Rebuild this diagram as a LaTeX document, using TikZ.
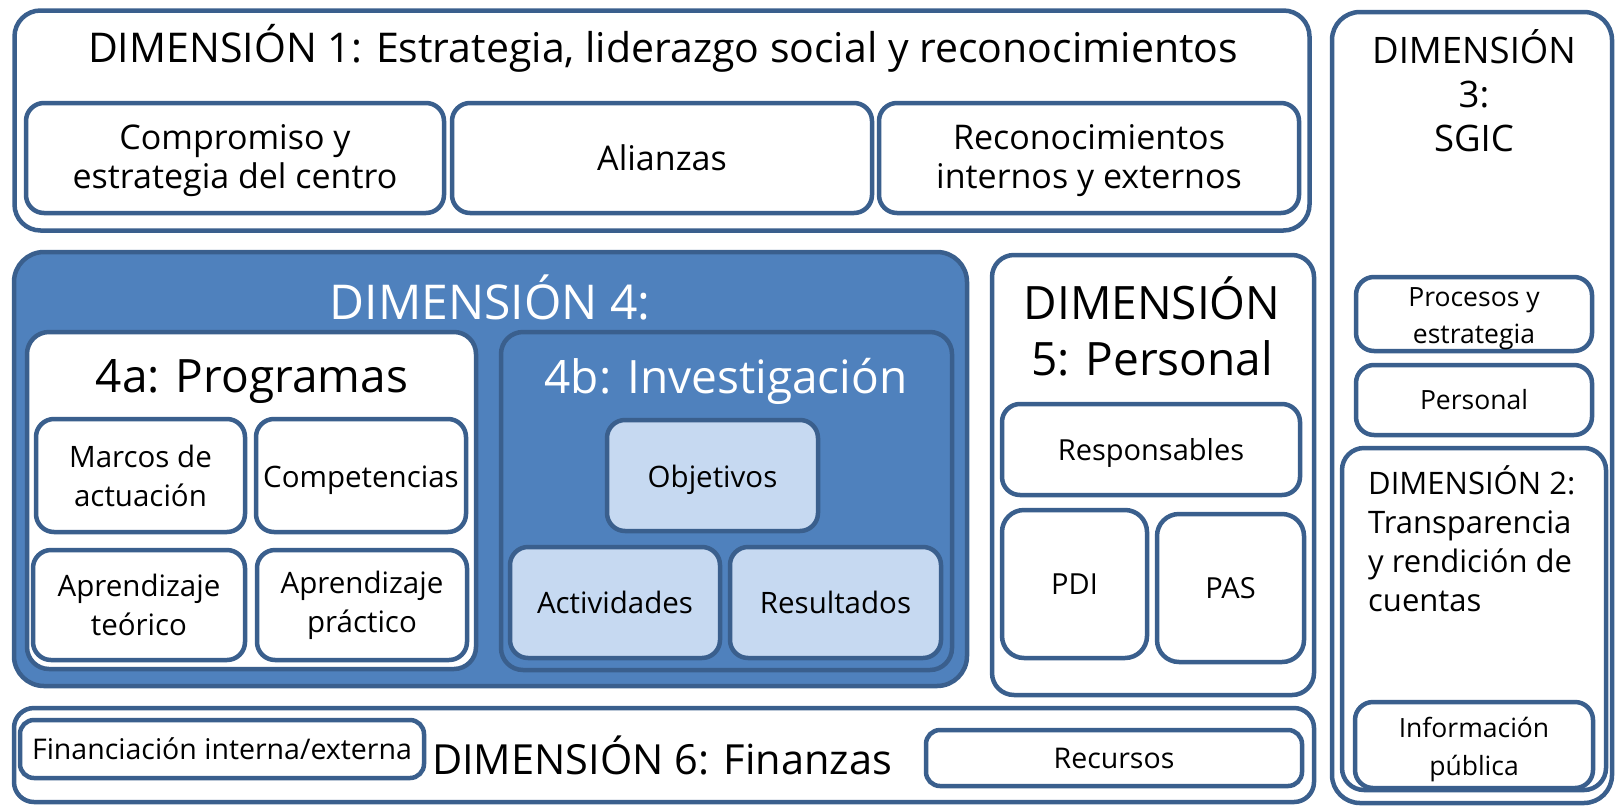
\documentclass[tikz,border=0pt]{standalone}
\usepackage{fontspec}
\setmainfont{Open Sans}
\definecolor{bord}{HTML}{3A5F8D}
\definecolor{dfill}{HTML}{4F81BD}
\definecolor{lfill}{HTML}{C6D9F1}
\newcommand{\dn}[2]{\raisebox{-#1}[\height][\depth]{#2}}
\tikzset{
  bx/.style={draw=bord, line width=4.5pt, rounded corners=18pt, fill=white, align=center, inner sep=0pt},
  big/.style={bx, rounded corners=26pt},
  lbl/.style={align=center, inner sep=0pt},
}
\begin{document}
\begin{tikzpicture}[x=1pt,y=-1pt]
\useasboundingbox (0,0) rectangle (1616,809);
% Dimension 1
\node[big, minimum width=1295pt, minimum height=220pt] (d1) at (662,120.5) {};
\node[lbl, font=\fontsize{41}{50}\selectfont] (d1t) at (663,48) {DIMENSIÓN 1: Estrategia, liderazgo social y reconocimientos};
\node[bx, minimum width=418pt, minimum height=110pt, font=\fontsize{34}{39}\selectfont] (comp) at (235,158) {\dn{3pt}{\begin{tabular}{@{}c@{}}Compromiso y\\[0pt]estrategia del centro\end{tabular}}};
\node[bx, minimum width=420pt, minimum height=110pt, font=\fontsize{34}{39}\selectfont] (ali) at (662,158) {Alianzas};
\node[bx, minimum width=420pt, minimum height=110pt, font=\fontsize{34}{39}\selectfont] (rec) at (1089,158) {\dn{3pt}{\begin{tabular}{@{}c@{}}Reconocimientos\\[0pt]internos y externos\end{tabular}}};
% Dimension 4
\node[big, fill=dfill, rounded corners=30pt, minimum width=953pt, minimum height=434pt] (d4) at (490.5,469) {};
\node[lbl, text=white, font=\fontsize{48}{56}\selectfont] (d4t) at (490,297) {DIMENSIÓN 4:};
\node[bx, rounded corners=22pt, minimum width=449pt, minimum height=337pt] (d4a) at (251.5,500.5) {};
\node[lbl, font=\fontsize{46}{58}\selectfont] (d4at) at (252,382) {4a: Programas};
\node[bx, minimum width=209pt, minimum height=113pt, font=\fontsize{29.5}{39}\selectfont] (mar) at (140.5,475.5) {Marcos de\\actuación};
\node[bx, minimum width=210pt, minimum height=113pt, font=\fontsize{29.5}{39}\selectfont] (com) at (361,475.5) {\dn{5pt}{Competencias}};
\node[bx, minimum width=212pt, minimum height=110pt, font=\fontsize{29.5}{39}\selectfont] (apt) at (139,605) {Aprendizaje\\teórico};
\node[bx, minimum width=210pt, minimum height=110pt, font=\fontsize{29.5}{39}\selectfont] (app) at (362,605) {Aprendizaje\\práctico};
\node[bx, fill=dfill, rounded corners=22pt, minimum width=451pt, minimum height=338pt] (d4b) at (726.5,501) {};
\node[lbl, text=white, font=\fontsize{46}{56}\selectfont] (d4bt) at (726,381) {4b: Investigación};
\node[bx, fill=lfill, minimum width=211pt, minimum height=111pt, font=\fontsize{29.5}{38}\selectfont] (obj) at (712.5,475.5) {\dn{4pt}{Objetivos}};
\node[bx, fill=lfill, minimum width=210pt, minimum height=111pt, font=\fontsize{29.5}{38}\selectfont] (act) at (615,602.5) {Actividades};
\node[bx, fill=lfill, minimum width=211pt, minimum height=111pt, font=\fontsize{29.5}{38}\selectfont] (res) at (835.5,602.5) {Resultados};
% Dimension 5
\node[big, rounded corners=22pt, minimum width=322pt, minimum height=440pt] (d5) at (1153,475) {};
\node[lbl, font=\fontsize{46}{56}\selectfont] (d5t) at (1152,326) {DIMENSIÓN\\5: Personal};
\node[bx, minimum width=298pt, minimum height=91pt, font=\fontsize{29}{38}\selectfont] (resp) at (1151,449.5) {\dn{3pt}{Responsables}};
\node[bx, rounded corners=22pt, minimum width=145pt, minimum height=148pt, font=\fontsize{29}{38}\selectfont] (pdi) at (1074.5,584) {PDI};
\node[bx, rounded corners=22pt, minimum width=147pt, minimum height=148pt, font=\fontsize{29}{38}\selectfont] (pas) at (1230.5,588) {PAS};
% Dimension 6
\node[big, rounded corners=20pt, minimum width=1300pt, minimum height=94pt] (d6) at (664,755) {};
\node[lbl, font=\fontsize{41.5}{52}\selectfont] (d6t) at (662,755) {DIMENSIÓN 6: Finanzas};
\node[bx, rounded corners=14pt, minimum width=404pt, minimum height=58pt, font=\fontsize{28.5}{34}\selectfont] (fin) at (222,749) {Financiación interna/externa};
\node[bx, rounded corners=14pt, minimum width=376pt, minimum height=56pt, font=\fontsize{28.5}{34}\selectfont] (recu) at (1114,758) {Recursos};
% Dimension 3
\node[big, rounded corners=28pt, minimum width=280pt, minimum height=791pt] (d3) at (1472,407.5) {};
\node[lbl, font=\fontsize{36.5}{44}\selectfont] (d3t) at (1474,91) {DIMENSIÓN\\3:\\SGIC};
\node[bx, minimum width=236pt, minimum height=72pt, font=\fontsize{26.5}{37}\selectfont] (pro) at (1474,314) {\dn{4pt}{\begin{tabular}{@{}c@{}}Procesos y\\[0pt]estrategia\end{tabular}}};
\node[bx, minimum width=236pt, minimum height=70pt, font=\fontsize{26.5}{37}\selectfont] (per) at (1474,400) {Personal};
\node[bx, rounded corners=22pt, minimum width=264pt, minimum height=342pt] (d2) at (1474,619) {};
\node[lbl, anchor=west, align=left, font=\fontsize{31}{39}\selectfont] (d2t) at (1368,539) {DIMENSIÓN 2:\\Transparencia\\y rendición de\\cuentas};
\node[bx, minimum width=238pt, minimum height=86pt, font=\fontsize{26.5}{38}\selectfont] (inf) at (1474,745) {\dn{4pt}{\begin{tabular}{@{}c@{}}Información\\[0pt]pública\end{tabular}}};
\end{tikzpicture}
\end{document}
